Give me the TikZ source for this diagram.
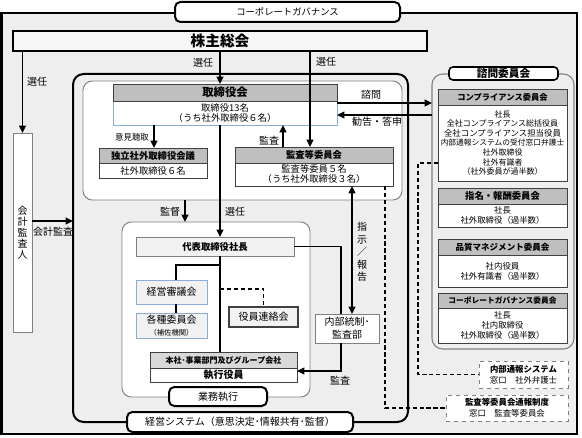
\documentclass[tikz,border=0pt]{standalone}
\usepackage{fontspec}
\setmainfont{Noto Sans CJK JP}
\usetikzlibrary{arrows.meta}
\definecolor{bg}{HTML}{EEEEEE}
\definecolor{hdr}{HTML}{BFBFBF}
\definecolor{hdl}{HTML}{D9D9D9}
\definecolor{lf}{HTML}{F2F2F2}
\definecolor{bl}{HTML}{8FAADC}
\definecolor{gb}{HTML}{808080}
\definecolor{db}{HTML}{404040}
\newcommand\fz[2]{\fontsize{#1}{#2}\selectfont}
\tikzset{
  rr/.style n args={4}{at={({(#1+#3)/2},{(#2+#4)/2})}, minimum width={(#3-#1)*0.75pt}, minimum height={(#4-#2)*0.75pt}},
  box/.style={inner sep=0pt, outer sep=0pt, align=center, anchor=center},
  thinb/.style={box, draw=gb, line width=0.6pt, fill=white},
  hd/.style={box, draw=db, line width=0.7pt, fill=hdr, font=\bfseries\fz{7}{8}},
  bd/.style={box, draw=db, line width=0.6pt, fill=white, font=\fz{6.3}{7.6}},
  tabbox/.style={box, draw=black, line width=1.5pt, fill=white, rounded corners=4pt, font=\fz{7.5}{9}},
  region/.style={box, draw=gb, line width=0.7pt, fill=white, rounded corners=7pt},
  arr/.style={line width=1.3pt, -{Triangle[length=5.5pt,width=5pt]}},
  dbl/.style={line width=1.3pt, {Triangle[length=5.5pt,width=5pt]}-{Triangle[length=5.5pt,width=5pt]}},
  ln/.style={line width=1.3pt},
  dsh/.style={line width=1.1pt, dash pattern=on 3.2pt off 2pt},
  lab/.style={font=\fz{7.5}{9}, inner sep=0pt, align=center}
}
\begin{document}
\begin{tikzpicture}[x=0.75pt,y=-0.75pt]
\useasboundingbox (0,0) rectangle (582,438);
% outer frame
\node[box, draw=black, line width=1.5pt, fill=bg, rr={1.5}{13}{577}{434}] (frame) {};
\node[tabbox, rr={175}{2}{400}{22}, font=\fz{7}{8}] (cg) {コーポレートガバナンス};
% shareholders
\node[box, draw=black, line width=1.5pt, fill=lf!60!white, rr={13}{31}{427}{51}, font=\bfseries\fz{11}{12}] (sh) {株主総会};
% accounting auditor
\node[thinb, rr={13}{133}{32}{332}, font=\fz{7.5}{8.3}] (kk) {会\\計\\監\\査\\人};
% management system
\node[box, draw=black, line width=1.5pt, rounded corners=8pt, rr={73}{74}{408}{422}] (ms) {};
\node[tabbox, rr={127}{412}{353}{432}] (kei) {経営システム（意思決定･情報共有･監督）};
% board region
\node[region, rr={83}{81}{402}{200}] (br) {};
\node[box, draw=bl, line width=0.5pt, fill=white, rr={113}{101}{337}{125}, font=\fz{7}{7.5}] (bb) {取締役13名\\（うち社外取締役６名）};
\node[hd, rr={113}{84}{337}{101}, font=\bfseries\fz{8.5}{9}] (bh) {取締役会};
\node[bd, rr={99}{163}{207}{178}, font=\fz{7}{7.5}] (ib) {社外取締役６名};
\node[hd, rr={99}{148}{207}{163}] (ih) {独立社外取締役会議};
\node[bd, rr={235}{163}{393}{186}, font=\fz{7}{7.5}] (ab) {監査等委員５名\\（うち社外取締役３名）};
\node[hd, rr={235}{147}{393}{163}] (ah) {監査等委員会};
% execution region
\node[region, rr={122}{222}{310}{397}] (er) {};
\node[box, draw=gb, line width=0.6pt, fill=lf, rr={136}{237}{294}{256}, font=\bfseries\fz{7}{8}] (pres) {代表取締役社長};
\node[box, draw=bl, line width=0.6pt, fill=lf, rr={136}{280}{207}{304}, font=\fz{7.5}{8}] (kc) {経営審議会};
\node[box, draw=bl, line width=0.6pt, fill=lf, rr={136}{313}{207}{338}, font=\fz{7.5}{8.5}] (kiin) {各種委員会\\{\fz{5.5}{6}（補佐機関）}};
\node[box, draw=db, line width=0.8pt, fill=lf, rr={229}{307}{298}{327}, font=\fz{7.5}{8}] (yr) {役員連絡会};
\node[box, draw=db, line width=0.7pt, fill=hdl, rr={150}{352}{297}{368}, font=\bfseries\fz{6}{7}] (hq) {本社･事業部門及びグループ会社};
\node[box, draw=db, line width=0.7pt, fill=white, rr={150}{368}{297}{382}, font=\bfseries\fz{7.5}{8}] (eb) {執行役員};
\node[tabbox, rr={169}{387}{267}{406}] (gy) {業務執行};
\node[thinb, rr={315}{314}{379}{343}, font=\fz{7.5}{9.5}] (ia) {内部統制･\\監査部};
% advisory
\node[box, draw=gb, line width=0.8pt, fill=bg, rounded corners=8pt, rr={432}{74}{574}{349}] (advr) {};
\node[box, draw=black, line width=1.2pt, fill=white, rounded corners=3pt, rr={449}{67}{558}{80}, font=\bfseries\fz{8}{9}] (adv) {諮問委員会};
\node[bd, rr={438}{105}{567}{181}, font=\fz{6}{7.2}] (cb) {社長\\全社コンプライアンス総括役員\\{\fz{6.3}{7.2}全社コンプライアンス担当役員}\\{\fz{5.8}{7.2}内部通報システムの受付窓口弁護士}\\社外取締役\\社外有識者\\（社外委員が過半数）};
\node[hd, rr={438}{89}{567}{105}, font=\bfseries\fz{6.2}{7}] (ch) {コンプライアンス委員会};
\node[bd, rr={438}{204}{567}{227}] (nb) {社長\\社外取締役（過半数）};
\node[hd, rr={438}{188}{567}{204}] (nh) {指名・報酬委員会};
\node[bd, rr={438}{255}{567}{287}] (qb) {社内役員\\社外有識者（過半数）};
\node[hd, rr={438}{239}{567}{255}, font=\bfseries\fz{6.4}{7}] (qh) {品質マネジメント委員会};
\node[bd, rr={438}{308}{567}{343}] (gb2) {社長\\社内取締役\\社外取締役（過半数）};
\node[hd, rr={438}{293}{567}{308}, font=\bfseries\fz{5.8}{7}] (gh) {コーポレートガバナンス委員会};
\node[box, draw=gb, dashed, line width=0.6pt, fill=white, rr={479}{361}{568}{388}, font=\fz{6.3}{8}] (nt) {{\bfseries 内部通報システム}\\窓口　社外弁護士};
\node[box, draw=gb, dashed, line width=0.6pt, fill=white, rr={446}{395}{568}{421}, font=\fz{6.3}{8}] (ts) {{\bfseries 監査等委員会通報制度}\\窓口　監査等委員会};
% helper coordinates
\coordinate (c154) at (154,0);
\coordinate (c176) at (176,0);
\coordinate (c185) at (185,0);
\coordinate (c220) at (220,0);
\coordinate (c283) at (283,0);
\coordinate (c310) at (310,0);
\coordinate (c341) at (341,0);
\coordinate (c352) at (352,0);
\coordinate (c385) at (385,0);
\coordinate (c418) at (418,0);
\coordinate (r103) at (0,103);
\coordinate (r115) at (0,115);
\coordinate (r163) at (0,163);
\coordinate (r221) at (0,221);
\coordinate (r265) at (0,265);
\coordinate (r289) at (0,289);
\coordinate (r371) at (0,371);
% connectors
\draw[arr] (sh.south -| kk.north) -- (kk.north);
\draw[arr] (sh.south -| c220) -- (bh.north -| c220);
\draw[arr] (sh.south -| c310) -- (ah.north -| c310);
\draw[arr] (bb.south -| c154) -- (ih.north -| c154);
\draw[arr] (ah.north -| c283) -- (bb.south -| c283);
\draw[arr] (bb.south -| c220) -- (pres.north -| c220);
\draw[arr] (br.south -| c185) -- (er.north -| c185);
\draw[arr] (kk.east |- r221) -- (ms.west |- r221);
\draw[arr] (bb.east |- r103) -- (advr.west |- r103);
\draw[arr] (advr.west |- r115) -- (bb.east |- r115);
\draw[ln] (pres.east) -| (ia.north -| c341);
\draw[dbl] (ab.south -| c352) -- (ia.north -| c352);
\draw[arr] (ia.south -| c341) |- (eb.east |- r371);
\draw[ln] (pres.south -| c220) -- (hq.north -| c220);
\draw[ln] (c220 |- r265) -| (kc.north -| c176);
\draw[ln] (kc.south -| c176) -- (kiin.north -| c176);
\draw[dsh] (c220 |- r289) -| (yr.north);
\draw[dsh] (cb.west |- r163) -| (c418 |- nt.west) -- (nt.west);
\draw[dsh] (ab.south -| c385) |- (ts.west);
% labels
\node[lab] at (37,82) {選任};
\node[lab] at (203,63) {選任};
\node[lab] at (326,62) {選任};
\node[lab] at (371,95) {諮問};
\node[lab] at (377,122) {勧告・答申};
\node[lab, font=\fz{6.3}{7}] at (132,137) {意見聴取};
\node[lab] at (269,141) {監査};
\node[lab] at (170,212) {監督};
\node[lab] at (235,212) {選任};
\node[lab] at (53,232) {会計監査};
\node[lab] at (340,381) {監査};
\node[lab, font=\fz{7.5}{9.4}] at (362,252) {指\\示\\／\\報\\告};
\end{tikzpicture}
\end{document}
